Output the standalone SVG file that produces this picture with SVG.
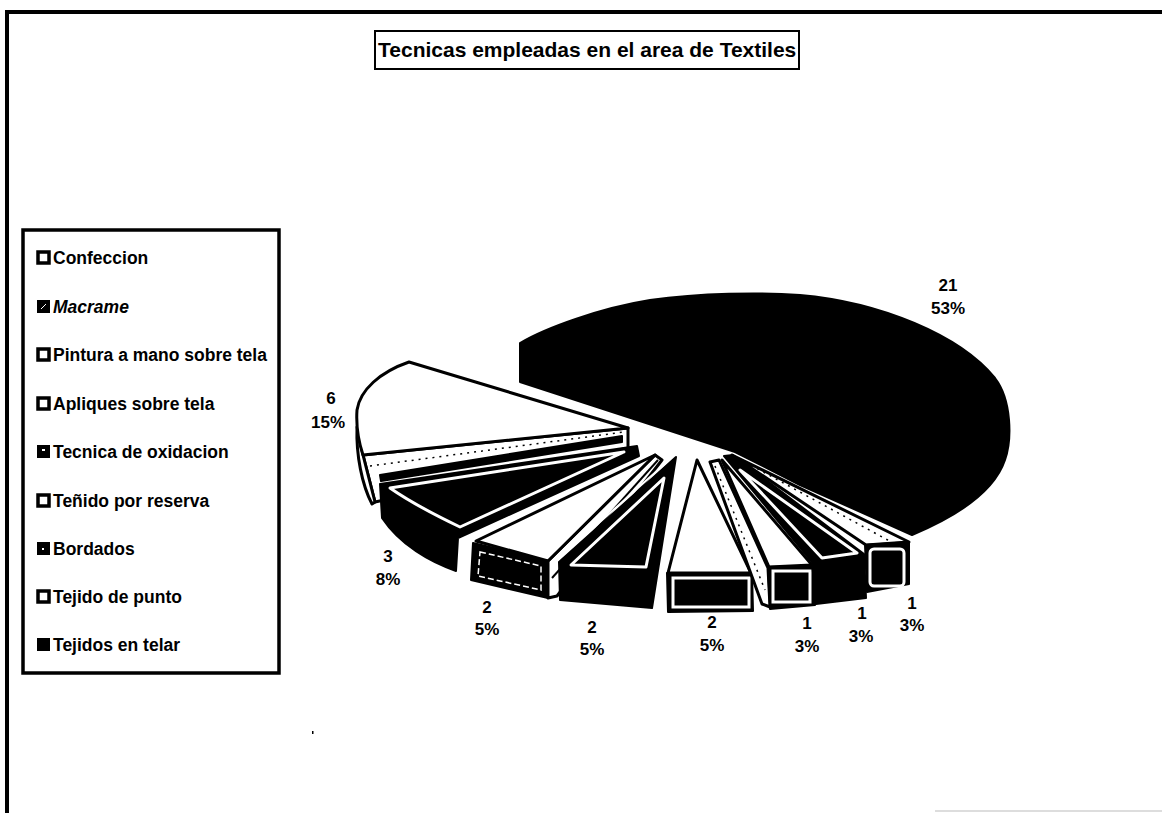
<svg xmlns="http://www.w3.org/2000/svg" width="1162" height="813" viewBox="0 0 1162 813">
<style>
text{font-family:"Liberation Sans",Arial,sans-serif;font-weight:bold;fill:#000}
.lg{font-size:17.5px}
.lb{font-size:17px;text-anchor:middle}
.w{fill:#fff;stroke:#000;stroke-width:3;stroke-linejoin:round}
.b{fill:#000;stroke:#000;stroke-width:2;stroke-linejoin:round}
.wl{fill:none;stroke:#fff;stroke-width:3;stroke-linejoin:round}
.dot{fill:none;stroke:#000;stroke-width:1.5;stroke-dasharray:2 5}
.mk{fill:#fff;stroke:#000;stroke-width:3.5}
.mkd{fill:#000;stroke:#000;stroke-width:2}
</style>
<rect width="1162" height="813" fill="#fff"/>
<g id="frame">
<rect x="5" y="10" width="1157" height="4" fill="#000"/>
<rect x="5" y="10" width="4" height="803" fill="#000"/>
<line x1="935" y1="811" x2="1162" y2="811" stroke="#ddd" stroke-width="2"/>
<rect x="312" y="731" width="1.5" height="3" fill="#000"/>
</g>
<g id="title">
<rect x="375" y="31" width="424" height="38" fill="#fff" stroke="#000" stroke-width="2"/>
<text x="378" y="57" font-size="21">Tecnicas empleadas en el area de Textiles</text>
</g>
<g id="legend">
<rect x="23" y="230" width="256" height="443" fill="#fff" stroke="#000" stroke-width="3.5"/>
<g id="lg-confeccion"><rect class="mk" x="38" y="252" width="11" height="11"/><text class="lg" x="53" y="264">Confeccion</text></g>
<g id="lg-macrame"><rect class="mkd" x="38" y="301" width="11" height="11"/><path d="M41,309 L46,304" stroke="#fff" stroke-width="1"/><text class="lg" x="53" y="313" font-style="italic">Macrame</text></g>
<g id="lg-pintura"><rect class="mk" x="38" y="349" width="11" height="11"/><text class="lg" x="53" y="361">Pintura a mano sobre tela</text></g>
<g id="lg-apliques"><rect class="mk" x="38" y="398" width="11" height="11"/><text class="lg" x="53" y="410">Apliques sobre tela</text></g>
<g id="lg-tecnica"><rect class="mkd" x="38" y="446" width="11" height="11"/><rect x="42" y="449" width="3" height="2" fill="#fff"/><text class="lg" x="53" y="458">Tecnica de oxidacion</text></g>
<g id="lg-tenido"><rect class="mk" x="38" y="495" width="11" height="11"/><text class="lg" x="53" y="507">Teñido por reserva</text></g>
<g id="lg-bordados"><rect class="mkd" x="38" y="543" width="11" height="11"/><rect x="42" y="548" width="2" height="2" fill="#fff"/><text class="lg" x="53" y="555">Bordados</text></g>
<g id="lg-punto"><rect class="mk" x="38" y="591" width="11" height="11"/><text class="lg" x="53" y="603">Tejido de punto</text></g>
<g id="lg-telar"><rect class="mkd" x="38" y="639" width="11" height="11"/><text class="lg" x="53" y="651">Tejidos en telar</text></g>
</g>
<g id="pie">
<g id="slice-telar">
<path class="b" d="M520,343 C545,328 600,308 650,300 C700,293 760,292 800,295 C880,302 960,335 995,378 C1012,400 1012,440 1005,460 C995,490 960,515 912,535 L800,485 L735,452 L520,382 Z"/>
</g>
<g id="slice-6">
<path class="w" d="M363,455 L628,428 L628,448 L375,502 Z"/>
<path class="b" d="M380,475 L622,436 L622,442 L381,481 Z"/>
<path class="dot" d="M370,466 L624,432"/>
<path class="w" d="M357,427 C356,455 362,485 372,504 L375,502 L363,455 Z" stroke-width="2.5"/>
<path class="w" d="M409,362 L628,428 L363,455 C358,440 356,425 357,410 C360,390 380,372 409,362 Z"/>
</g>
<g id="slice-3">
<path class="b" d="M380,484 L637,446 L639,456 L458,538 L456,571 C430,562 400,545 382,518 Z"/>
<path class="wl" d="M390,488 L624,452 L460,527 C435,515 410,502 390,488 Z"/>
</g>
<g id="slice-2a">
<path class="w" d="M548,561 L655,455 L662,460 L557,596 L548,598 Z" stroke-width="2.5"/>
<path d="M552,578 L658,460" stroke="#000" stroke-width="2"/>
<path class="b" d="M473,543 L548,561 L548,598 L471,580 Z"/>
<path d="M480,552 L541,566 L541,590 L478,576 Z" fill="none" stroke="#fff" stroke-width="1.5" stroke-dasharray="6 3"/>
<path class="w" d="M476,541 L655,455 L548,561 Z"/>
</g>
<g id="slice-2b">
<path class="b" d="M559,562 L676,457 L652,608 L560,600 Z"/>
<path class="wl" d="M571,565 L664,478 L646,567 Z"/>
<path d="M553,564 L668,461" stroke="#fff" stroke-width="2"/>
</g>
<g id="slice-2c">
<path class="w" d="M668,573 L697,460 L751,573 Z"/>
<path class="b" d="M667,573 L752,573 L753,611 L668,612 Z"/>
<rect x="673" y="578" width="76" height="29" fill="none" stroke="#fff" stroke-width="3"/>
</g>
<g id="slice-1a">
<path class="w" d="M710,462 L719,460 L768,568 L770,607 L762,604 Z" stroke-width="2"/>
<path class="dot" d="M715,466 L765,590"/>
<path class="w" d="M722,460 L769,567 L812,565 Z"/>
<path class="b" d="M768,567 L814,566 L815,605 L770,609 Z"/>
<rect x="773" y="571" width="37" height="31" fill="none" stroke="#fff" stroke-width="3"/>
</g>
<g id="slice-1b">
<path class="b" d="M724,456 L733,455 L864,554 L866,598 L816,604 L812,562 Z"/>
<path class="wl" d="M740,470 L857,553 L822,558 Z" stroke-width="2.5"/>
</g>
<g id="slice-1c">
<path class="w" d="M732,455 L866,545 L909,542 Z" stroke-width="2.5"/>
<path class="dot" d="M745,462 L895,544"/>
<path class="b" d="M865,545 L909,542 L909,584 L867,592 Z"/>
<rect x="870" y="549" width="34" height="37" rx="4" fill="none" stroke="#fff" stroke-width="3"/>
</g>
</g>
<g id="labels">
<text class="lb" x="948" y="291">21</text><text class="lb" x="948" y="314">53%</text>
<text class="lb" x="331" y="404">6</text><text class="lb" x="328" y="428">15%</text>
<text class="lb" x="388" y="562">3</text><text class="lb" x="388" y="585">8%</text>
<text class="lb" x="487" y="613">2</text><text class="lb" x="487" y="635">5%</text>
<text class="lb" x="592" y="633">2</text><text class="lb" x="592" y="655">5%</text>
<text class="lb" x="712" y="628">2</text><text class="lb" x="712" y="651">5%</text>
<text class="lb" x="807" y="629">1</text><text class="lb" x="807" y="652">3%</text>
<text class="lb" x="862" y="619">1</text><text class="lb" x="861" y="642">3%</text>
<text class="lb" x="912" y="609">1</text><text class="lb" x="912" y="631">3%</text>
</g>
</svg>
